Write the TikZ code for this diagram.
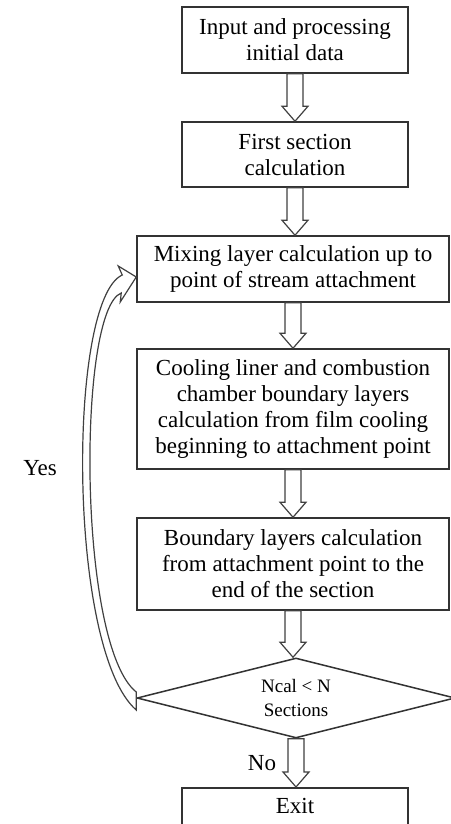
\documentclass[tikz,border=0pt]{standalone}
\usepackage{fontspec}
\setmainfont{Liberation Serif}
\usetikzlibrary{shapes.geometric,calc}

\tikzset{
    procbox/.style={draw=black!80,line width=0.75pt,fill=white,align=center,inner sep=2pt,
        font=\fontsize{11.5}{13}\selectfont},
    decision/.style={draw=black!80,line width=0.75pt,diamond,aspect=4,inner sep=0pt,align=center,
        font=\fontsize{9.5}{12}\selectfont},
    hollow/.style={draw=black!75,line width=0.6pt,fill=white,line join=miter},
    plain/.style={font=\fontsize{11.5}{13}\selectfont},
}

% wide hollow arrow pointing down from one node to the next
\newcommand{\downblock}[2]{%
    \draw[hollow] let \p1=(#1.south), \p2=(#2.north) in
        (\x1-4pt,\y1) -- (\x1-4pt,\y2+7.5pt) -- (\x1-6.5pt,\y2+7.5pt) -- (\x1,\y2)
        -- (\x1+6.5pt,\y2+7.5pt) -- (\x1+4pt,\y2+7.5pt) -- (\x1+4pt,\y1) -- cycle;}

\begin{document}
\begin{tikzpicture}[x=0.5pt,y=-0.5pt]
    \useasboundingbox (0,0) rectangle (450,824);

    \node[procbox,minimum width=113pt,minimum height=33pt] (input) at (295,40)
        {Input and processing\\initial data};
    \node[procbox,minimum width=113pt,minimum height=32.5pt] (first) at (295,154.5)
        {First section\\calculation};
    \node[procbox,minimum width=156pt,minimum height=33pt] (mix) at (293,269)
        {Mixing layer calculation up to\\point of stream attachment};
    \node[procbox,minimum width=156pt,minimum height=60pt] (cool) at (293,409)
        {Cooling liner and combustion\\chamber boundary layers\\calculation from film cooling\\beginning to attachment point};
    \node[procbox,minimum width=156pt,minimum height=46pt] (bound) at (293,564)
        {Boundary layers calculation\\from attachment point to the\\end of the section};
    \node[decision,minimum width=159pt,minimum height=40pt] (cond) at (296,698)
        {Ncal < N\\Sections};
    % runs off the bottom edge
    \node[procbox,minimum width=113pt,anchor=north,inner ysep=3pt,text height=10pt,text depth=14pt]
        (exit) at (295,787) {Exit};

    \downblock{input}{first}
    \downblock{first}{mix}
    \downblock{mix}{cool}
    \downblock{cool}{bound}
    \downblock{bound}{cond}
    \downblock{cond}{exit}

    % loop back to the mixing layer step
    \coordinate (tip) at ([shift={(0,8)}]mix.west);
    \coordinate (base) at (cond.west);
    \draw[hollow] ([shift={(0,-6)}]base) .. controls +(-59,-47) and +(-44,17) .. ([shift={(-15,16)}]tip)
        -- ([shift={(-16,25)}]tip) -- (tip) -- ([shift={(-18,-11)}]tip) -- ([shift={(-14,-2)}]tip)
        .. controls +(-55,25) and +(-69,-60) .. ([shift={(0,12)}]base) -- cycle;

    \node[plain] (yes) at (40,468) {Yes};
    \node[plain] (no) at (262,763) {No};
\end{tikzpicture}
\end{document}
